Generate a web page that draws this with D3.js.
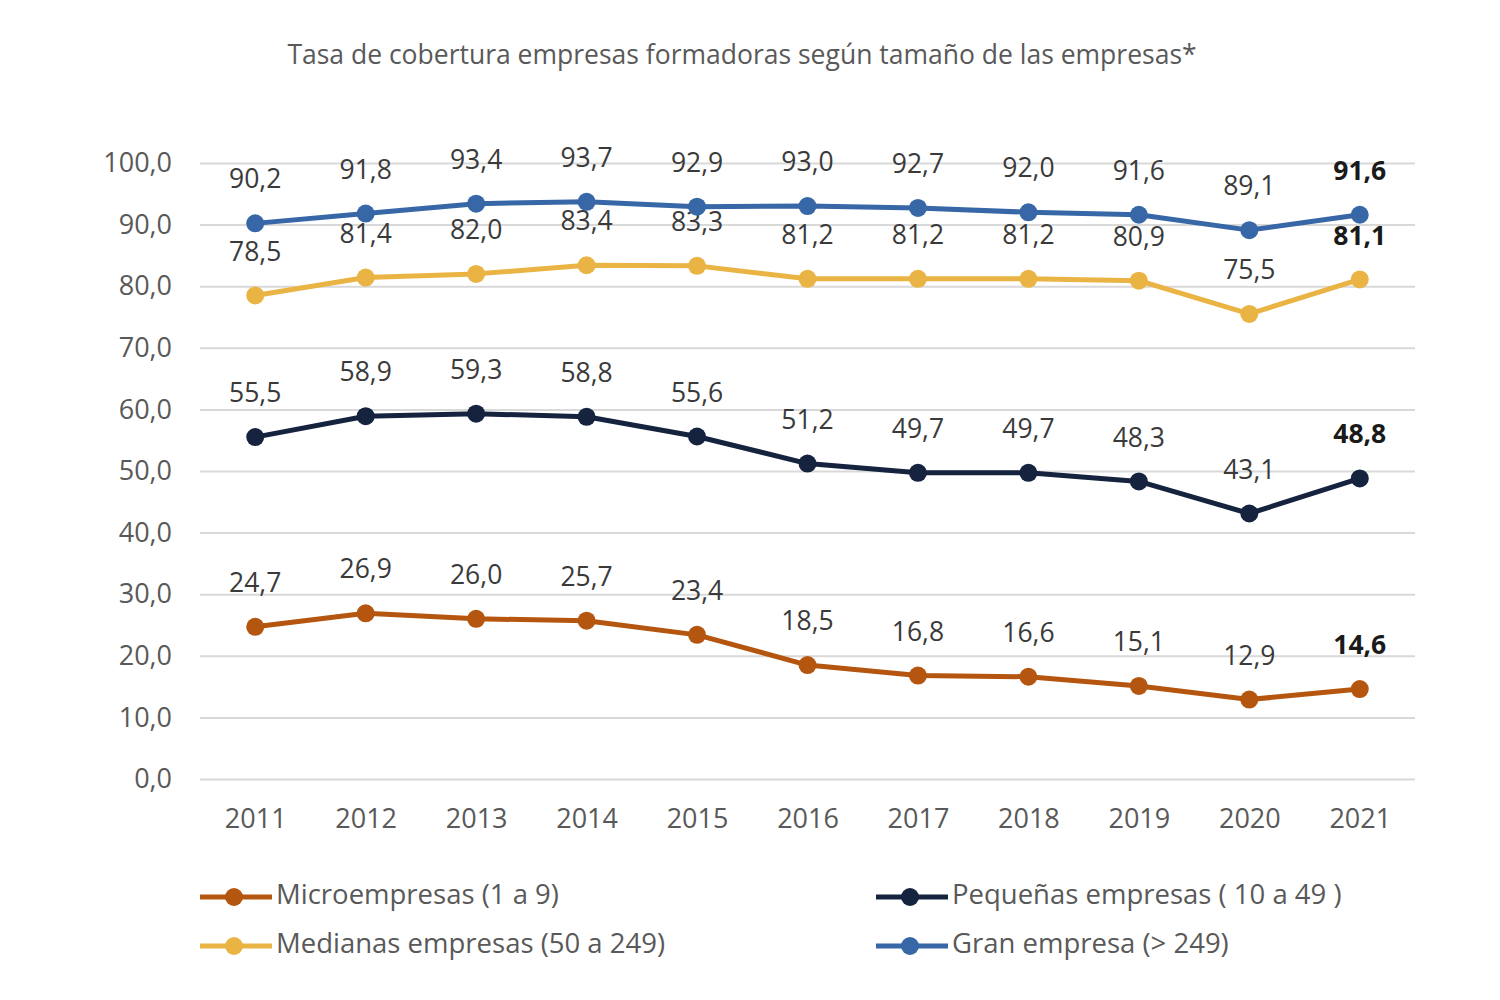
<!DOCTYPE html>
<html>
<head>
<meta charset="utf-8">
<script src="https://cdn.jsdelivr.net/npm/d3@7"></script>
<style>
  body { margin: 0; background: #fff; }
  text { font-family: "Open Sans", sans-serif; }
</style>
</head>
<body>
<script>
// data
var years = ["2011","2012","2013","2014","2015","2016","2017","2018","2019","2020","2021"];
var micro    = [24.7, 26.9, 26.0, 25.7, 23.4, 18.5, 16.8, 16.6, 15.1, 12.9, 14.6];
var pequenas = [55.5, 58.9, 59.3, 58.8, 55.6, 51.2, 49.7, 49.7, 48.3, 43.1, 48.8];
var medianas = [78.5, 81.4, 82.0, 83.4, 83.3, 81.2, 81.2, 81.2, 80.9, 75.5, 81.1];
var gran     = [90.2, 91.8, 93.4, 93.7, 92.9, 93.0, 92.7, 92.0, 91.6, 89.1, 91.6];
var yTicks = [0, 10, 20, 30, 40, 50, 60, 70, 80, 90, 100];
var seriesNames = ["Microempresas (1 a 9)", "Pequeñas empresas ( 10 a 49 )", "Medianas empresas (50 a 249)", "Gran empresa (> 249)"];
var seriesColors = ["#b4560f", "#15233f", "#eab444", "#3767a6"];

var series = [micro, pequenas, medianas, gran].map(function(v, i){
  return {name: seriesNames[i], color: seriesColors[i], values: v};
});

var W = 1500, H = 1000;
var svg = d3.select("body").append("svg").attr("width", W).attr("height", H);

var x = d3.scalePoint().domain(years).range([200, 1415]).padding(0.5);
var y = d3.scaleLinear().domain([0, 100]).range([779, 163]);

var fmt = function(v){ return d3.format(".1f")(v).replace(".", ","); };

// title
svg.append("text")
  .attr("x", 742).attr("y", 64)
  .attr("text-anchor", "middle")
  .attr("font-size", 26.5)
  .attr("fill", "#595959")
  .text("Tasa de cobertura empresas formadoras según tamaño de las empresas*");

// gridlines + y axis
var yAxis = d3.axisLeft(y).tickValues(yTicks).tickSize(-1215).tickFormat(fmt).tickPadding(28);
var gy = svg.append("g").attr("transform", "translate(200,0)").call(yAxis);
gy.select(".domain").remove();
gy.selectAll(".tick line").attr("stroke", "#d9d9d9").attr("stroke-width", 2);
gy.selectAll(".tick text").attr("font-size", 27).attr("fill", "#595959")
  .attr("font-family", "Open Sans, sans-serif");

// x axis labels
var xAxis = d3.axisBottom(x).tickSize(0).tickPadding(30);
var gx = svg.append("g").attr("transform", "translate(0,779)").call(xAxis);
gx.select(".domain").remove();
gx.selectAll(".tick text").attr("font-size", 27).attr("fill", "#595959")
  .attr("font-family", "Open Sans, sans-serif");

var line = d3.line()
  .x(function(d, i){ return x(years[i]); })
  .y(function(d){ return y(d); });

series.forEach(function(s){
  svg.append("path")
    .attr("d", line(s.values))
    .attr("fill", "none")
    .attr("stroke", s.color)
    .attr("stroke-width", 5)
    .attr("stroke-linejoin", "round");

  svg.selectAll(null)
    .data(s.values)
    .enter().append("circle")
    .attr("cx", function(d, i){ return x(years[i]); })
    .attr("cy", function(d){ return y(d); })
    .attr("r", 9)
    .attr("fill", s.color);

  svg.selectAll(null)
    .data(s.values)
    .enter().append("text")
    .attr("x", function(d, i){ return x(years[i]); })
    .attr("y", function(d){ return y(d) - 42; })
    .attr("text-anchor", "middle")
    .attr("dominant-baseline", "middle")
    .attr("font-size", 26.5)
    .attr("fill", function(d, i){ return i === years.length - 1 ? "#1a1a1a" : "#3a3a3a"; })
    .attr("font-weight", function(d, i){ return i === years.length - 1 ? "bold" : "normal"; })
    .text(fmt);
});

// legend: two columns, two rows
var legendPos = [[200, 897], [876, 897], [200, 946], [876, 946]];
var legend = svg.selectAll("g.legend")
  .data(series)
  .enter().append("g")
  .attr("class", "legend")
  .attr("transform", function(d, i){ return "translate(" + legendPos[i][0] + "," + legendPos[i][1] + ")"; });

legend.append("line")
  .attr("x1", 0).attr("x2", 72).attr("y1", 0).attr("y2", 0)
  .attr("stroke", function(d){ return d.color; })
  .attr("stroke-width", 5);
legend.append("circle")
  .attr("cx", 34).attr("cy", 0).attr("r", 9)
  .attr("fill", function(d){ return d.color; });
legend.append("text")
  .attr("x", 76).attr("y", 0)
  .attr("dominant-baseline", "middle")
  .attr("font-size", 27.5)
  .attr("fill", "#595959")
  .text(function(d){ return d.name; });
</script>
</body>
</html>
